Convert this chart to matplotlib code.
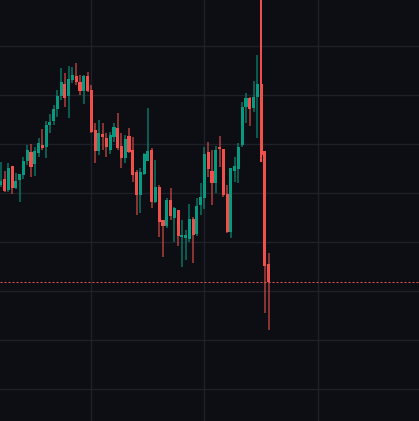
import matplotlib.pyplot as plt
import numpy as np

# candle data (price units), oldest first
opens = [236, 242, 231, 255, 233, 241, 246, 260, 269, 257, 268, 276, 274, 296, 300, 312,
         325, 337, 325, 341, 345, 339, 330, 345, 331, 291, 270, 287, 283, 271, 284, 293,
         275, 263, 285, 271, 249, 226, 247, 260, 271, 219, 234, 201, 195, 221, 203, 211,
         184, 183, 182, 202, 187, 216, 223, 269, 250, 238, 274, 272, 227, 189, 250, 252,
         276, 314, 323, 313, 324, 337, 270, 157]
highs = [259, 250, 258, 255, 248, 247, 264, 276, 277, 274, 283, 292, 300, 307, 316, 331,
         353, 348, 355, 354, 358, 346, 346, 349, 336, 298, 301, 298, 288, 289, 298, 308,
         288, 286, 293, 284, 251, 253, 268, 313, 273, 261, 236, 201, 223, 233, 214, 211,
         201, 191, 217, 204, 223, 238, 274, 279, 271, 275, 285, 272, 236, 253, 264, 278,
         319, 328, 324, 340, 366, 441, 270, 168]
lows = [234, 229, 229, 227, 232, 219, 242, 256, 244, 245, 264, 271, 263, 288, 296, 304,
        321, 314, 303, 338, 336, 326, 317, 329, 288, 258, 266, 271, 264, 267, 279, 271,
        253, 258, 268, 239, 206, 208, 246, 260, 213, 218, 184, 164, 193, 201, 179, 175,
        154, 161, 179, 158, 185, 206, 212, 244, 216, 228, 254, 224, 188, 183, 239, 238,
        274, 298, 295, 309, 283, 259, 108, 91]
closes = [240, 230, 253, 233, 240, 247, 260, 271, 254, 270, 278, 273, 296, 299, 312, 325,
          339, 323, 342, 346, 339, 330, 345, 330, 289, 270, 288, 284, 274, 286, 294, 273,
          263, 282, 269, 246, 226, 249, 267, 270, 219, 234, 199, 195, 221, 205, 213, 185,
          186, 186, 202, 186, 215, 224, 267, 252, 238, 271, 272, 226, 189, 253, 255, 274,
          314, 323, 312, 324, 337, 266, 155, 139]

grid_prices = [32, 81, 130, 179, 228, 277, 326, 375]
grid_bars = [24, 54, 84]

up_color = '#089981'
down_color = '#f0504c'
bg_color = '#0c0e13'
grid_color = '#1e2129'

px = 0.72  # one pixel in points at dpi 100

fig = plt.figure(figsize=(4.19, 4.21), dpi=100)
fig.patch.set_facecolor(bg_color)
ax = fig.add_axes([0, 0, 1, 1])
ax.set_facecolor(bg_color)

x = np.arange(len(opens))
o = np.array(opens, dtype=float)
h = np.array(highs, dtype=float)
l = np.array(lows, dtype=float)
c = np.array(closes, dtype=float)
is_up = c >= o
colors = [up_color if u else down_color for u in is_up]

ylim_top = 421

# wicks (dimmer), except the spike that runs off the top
for i in range(len(x)):
    a = 1.0 if h[i] > ylim_top else 0.55
    ax.vlines(x[i], l[i], h[i], color=colors[i], alpha=a, linewidth=1.5 * px,
              antialiased=False, zorder=2)

# bodies
body_bottom = np.minimum(o, c)
body_height = np.maximum(np.abs(c - o), 1.5)
ax.bar(x, body_height, bottom=body_bottom, width=0.82, color=colors, linewidth=0, zorder=3)

# last price line
ax.axhline(closes[-1], color=down_color, linewidth=1 * px, linestyle=(0, (2, 2)), zorder=4)

ax.set_yticks(grid_prices)
ax.set_xticks(grid_bars)
ax.grid(True, color=grid_color, linewidth=1.4 * px, zorder=0)
ax.set_axisbelow(True)
ax.tick_params(left=False, bottom=False, labelleft=False, labelbottom=False)
for s in ax.spines.values():
    s.set_visible(False)

ax.set_xlim(-0.21, 110.87)
ax.set_ylim(0, ylim_top)

fig.savefig('out.png', dpi=100, facecolor=bg_color)
